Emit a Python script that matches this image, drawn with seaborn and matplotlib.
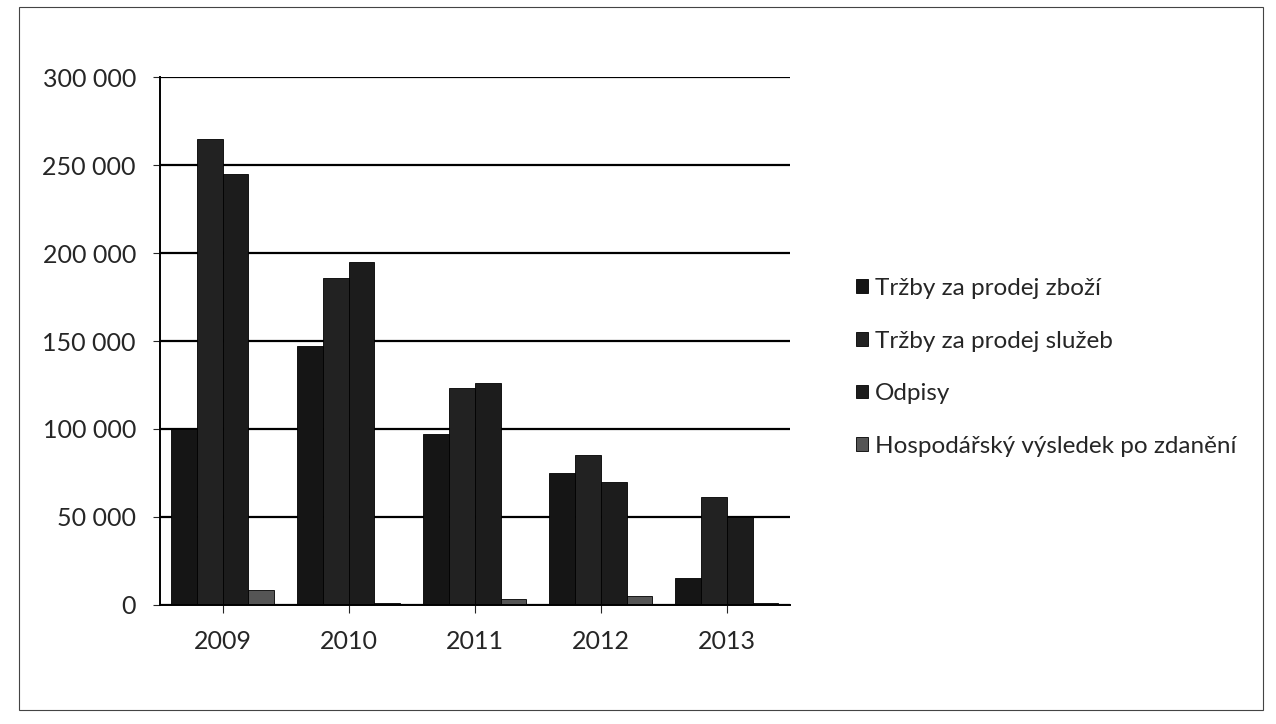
import pandas as pd
import matplotlib.pyplot as plt
import seaborn as sns
from matplotlib.patches import Rectangle
from matplotlib.ticker import FuncFormatter

years = ["2009", "2010", "2011", "2012", "2013"]
series = ["Tržby za prodej zboží", "Tržby za prodej služeb", "Odpisy",
          "Hospodářský výsledek po zdanění"]
trzby_zbozi = [100000, 147000, 97000, 75000, 15000]
trzby_sluzeb = [265000, 186000, 123000, 85000, 61000]
odpisy = [245000, 195000, 126000, 70000, 50000]
hv_po_zdaneni = [8000, 1000, 3000, 5000, 1000]

rows = []
for name, vals in zip(series, [trzby_zbozi, trzby_sluzeb, odpisy, hv_po_zdaneni]):
    for y, v in zip(years, vals):
        rows.append({"rok": y, "serie": name, "hodnota": v})
df = pd.DataFrame(rows)

sns.set_style("white")
plt.rcParams['font.family'] = ['Lato', 'DejaVu Sans']

fig = plt.figure(figsize=(12.76, 7.24), dpi=100)
ax = fig.add_axes([0.125, 0.165, 0.494, 0.728])

colors = ["#151515", "#222222", "#1c1c1c", "#555555"]
sns.barplot(data=df, x="rok", y="hodnota", hue="serie", palette=colors,
            width=0.82, ax=ax, saturation=1, edgecolor="#000000", linewidth=0.6)

ax.set_ylim(0, 300000)
ax.set_yticks(range(0, 300001, 50000))
ax.yaxis.set_major_formatter(FuncFormatter(lambda v, p: f"{int(v):,}".replace(",", " ")))
ax.grid(axis="y", color="black", linewidth=1.6)
ax.set_axisbelow(True)
ax.set_xlabel("")
ax.set_ylabel("")
for s in ["top", "right"]:
    ax.spines[s].set_visible(False)
ax.spines["left"].set_color("black")
ax.spines["bottom"].set_color("black")
ax.spines["left"].set_linewidth(1.4)
ax.spines["bottom"].set_linewidth(1.4)
ax.tick_params(axis="y", labelsize=18, pad=12, left=True, length=5)
ax.tick_params(axis="x", labelsize=18, pad=12, bottom=True, length=6)

handles, labels = ax.get_legend_handles_labels()
ax.legend(handles, labels, loc="center left", bbox_to_anchor=(1.07, 0.45),
          frameon=False, fontsize=17.5, handlelength=0.5, handleheight=0.5,
          handletextpad=0.3, labelspacing=1.3)

fig.patches.append(Rectangle((0.015, 0.02), 0.975, 0.97, transform=fig.transFigure,
                             fill=False, edgecolor="#444444", linewidth=0.8))

fig.savefig("out.png", dpi=100, facecolor="white")
